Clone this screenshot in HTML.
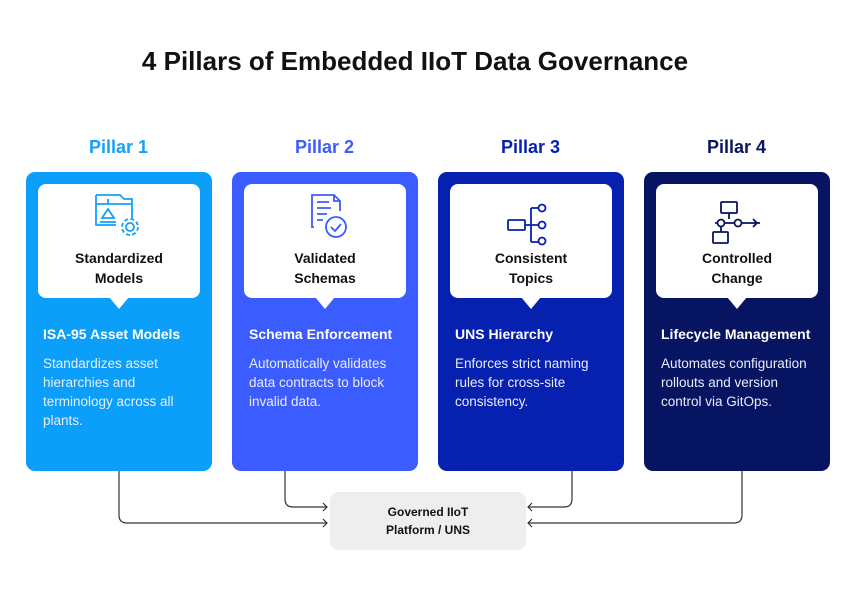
<!DOCTYPE html>
<html><head><meta charset="utf-8"><style>
*{margin:0;padding:0;box-sizing:border-box}
body{width:856px;height:601px;background:#fff;position:relative;font-family:"Liberation Sans",sans-serif;overflow:hidden}
.t{position:absolute;left:0;width:830px;top:46px;text-align:center;font-size:26px;font-weight:bold;color:#111}
.pl{position:absolute;top:137px;width:185px;text-align:center;font-size:18px;font-weight:bold}
.card{position:absolute;top:172px;width:186px;height:299px;border-radius:9px}
.in{position:absolute;left:12px;top:12px;width:162px;height:114px;background:#fff;border-radius:8px}
.in:after{content:"";position:absolute;left:71px;bottom:-11px;border-left:10px solid transparent;border-right:10px solid transparent;border-top:12px solid #fff}
.lab{position:absolute;left:0;width:162px;top:64px;text-align:center;font-size:14px;font-weight:bold;color:#111;line-height:20px}
.h{position:absolute;left:17px;top:154px;font-size:14px;font-weight:bold;color:#fff;white-space:nowrap}
.b{position:absolute;left:17px;top:182px;width:152px;font-size:13.5px;color:#e8ecff;line-height:19px}
.ic{position:absolute;left:56px;top:7px;overflow:visible}
.ctr{position:absolute;left:330px;top:492px;width:196px;height:58px;background:#eeeeee;border-radius:9px;text-align:center;font-size:12px;font-weight:bold;color:#111;line-height:18px;padding-top:11px}
</style></head><body>
<div class="t">4 Pillars of Embedded IIoT Data Governance</div>
<div class="pl" style="left:26px;color:#14a0fb">Pillar 1</div>
<div class="pl" style="left:232px;color:#3b5cff">Pillar 2</div>
<div class="pl" style="left:438px;color:#0620b0">Pillar 3</div>
<div class="pl" style="left:644px;color:#081763">Pillar 4</div>

<div class="card" style="left:26px;background:#0b9ffa">
<div class="in"><svg class="ic" width="50" height="50" viewBox="0 0 50 50" fill="none" stroke="#14a0fb" stroke-width="1.8">
<path d="M2 4h24l4 4h8v20M2 4v30h20"/><path d="M2 13h36"/><path d="M14 8v5"/><path d="M8 27l6-9 6 9z"/><path d="M6 31h16"/><circle cx="36" cy="36" r="4"/><circle cx="36" cy="36" r="8" stroke-dasharray="4 2.3"/></svg>
<div class="lab">Standardized<br>Models</div></div>
<div class="h">ISA-95 Asset Models</div>
<div class="b">Standardizes asset hierarchies and terminology across all plants.</div></div>

<div class="card" style="left:232px;background:#3b5cff">
<div class="in"><svg class="ic" width="50" height="50" viewBox="0 0 50 50" fill="none" stroke="#3b5cff" stroke-width="1.8">
<path d="M14 36h-2V4h22l6 6v10"/><path d="M34 4v6h6"/><path d="M17 11h12M17 17h14M17 23h10M17 29h6"/><circle cx="36" cy="36" r="10"/><path d="M31 36l4 4 6-7"/></svg>
<div class="lab">Validated<br>Schemas</div></div>
<div class="h">Schema Enforcement</div>
<div class="b">Automatically validates data contracts to block invalid data.</div></div>

<div class="card" style="left:438px;background:#0620b0">
<div class="in"><svg class="ic" width="50" height="50" viewBox="11 -2 50 50" fill="none" stroke="#0620b0" stroke-width="1.8">
<rect x="13" y="27" width="17" height="10" rx="1"/><path d="M30 32h6M36 15v34M36 15h7M36 32h7M36 49h7"/><circle cx="47" cy="15" r="3.5"/><circle cx="47" cy="32" r="3.5"/><circle cx="47" cy="48" r="3.5"/></svg>
<div class="lab">Consistent<br>Topics</div></div>
<div class="h">UNS Hierarchy</div>
<div class="b">Enforces strict naming rules for cross-site consistency.</div></div>

<div class="card" style="left:644px;background:#071462">
<div class="in"><svg class="ic" width="50" height="50" viewBox="11 -1 50 50" fill="none" stroke="#071462" stroke-width="1.8">
<rect x="20" y="10" width="16" height="11" rx="1"/><path d="M28 21v6M14 31h45M52 27l4 4-4 4"/><circle cx="20" cy="31" r="3.5" fill="#fff"/><circle cx="37" cy="31" r="3.5" fill="#fff"/><path d="M20 34v6"/><rect x="12" y="40" width="15" height="11" rx="1"/></svg>
<div class="lab">Controlled<br>Change</div></div>
<div class="h">Lifecycle Management</div>
<div class="b">Automates configuration rollouts and version control via GitOps.</div></div>

<svg style="position:absolute;left:0;top:0" width="856" height="601" fill="none" stroke="#333" stroke-width="1.2">
<path d="M119 471v44q0 8 8 8h200"/><path d="M285 471v28q0 8 8 8h34"/>
<path d="M572 471v28q0 8-8 8h-36"/><path d="M742 471v44q0 8-8 8h-206"/>
<path d="M323 503l4 4-4 4M323 519l4 4-4 4M532 503l-4 4 4 4M532 519l-4 4 4 4"/>
</svg>
<div class="ctr">Governed IIoT<br>Platform / UNS</div>
</body></html>
